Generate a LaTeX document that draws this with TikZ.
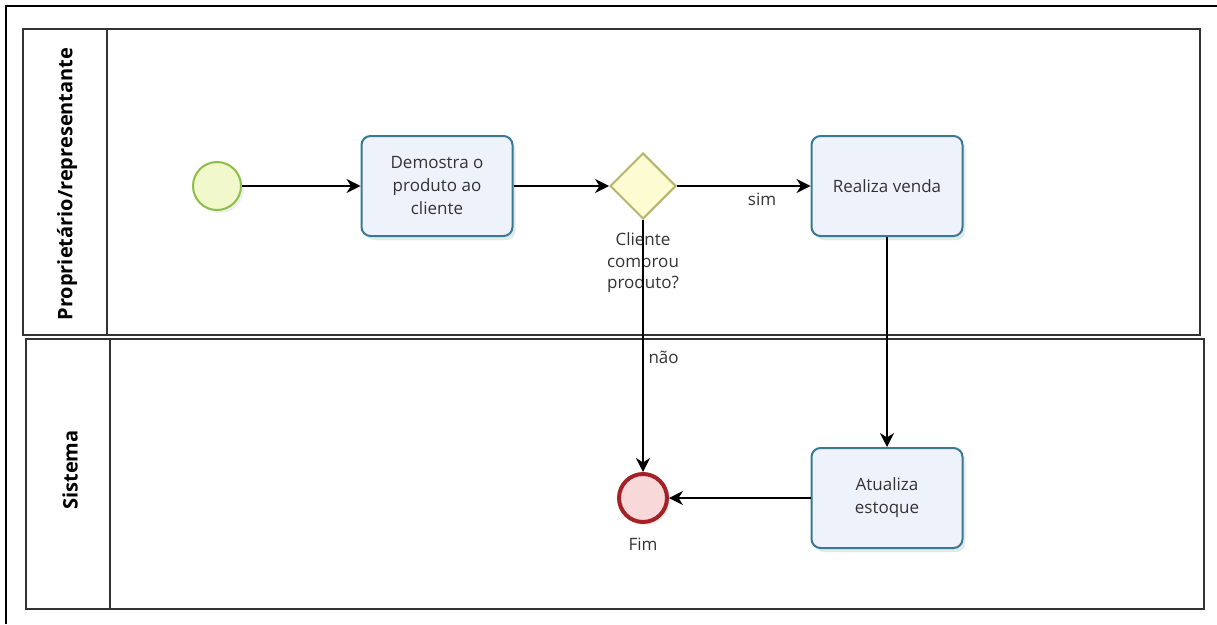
\documentclass[tikz,border=0pt]{standalone}
\usepackage{fontspec}
\setmainfont{Open Sans}
\usetikzlibrary{shapes.geometric,arrows.meta,shadows}
\definecolor{taskfill}{HTML}{EEF3FB}
\definecolor{taskdraw}{HTML}{3A7A90}
\definecolor{startfill}{HTML}{F0F8CC}
\definecolor{startdraw}{HTML}{8DBE45}
\definecolor{gatefill}{HTML}{FCFBD2}
\definecolor{gatedraw}{HTML}{B4B66C}
\definecolor{endfill}{HTML}{F8D8D8}
\definecolor{enddraw}{HTML}{A32127}
\definecolor{txt}{HTML}{333333}
\tikzset{
  lane/.style={draw=black!80, line width=1.3pt},
  lanetitle/.style={rotate=90, font=\fontsize{20}{24}\selectfont\bfseries, text=black},
  task/.style={draw=taskdraw, fill=taskfill, line width=2pt, rounded corners=9pt,
    minimum width=151pt, minimum height=100pt, align=center, text=txt,
    font=\fontsize{17}{23}\selectfont,
    drop shadow={shadow xshift=3pt, shadow yshift=-4pt, opacity=0.15, fill=taskdraw}},
  startev/.style={circle, draw=startdraw, fill=startfill, line width=2pt, minimum size=48pt,
    drop shadow={shadow xshift=3pt, shadow yshift=-3pt, opacity=0.12}},
  endev/.style={circle, draw=enddraw, fill=endfill, line width=4pt, minimum size=48pt,
    drop shadow={shadow xshift=3pt, shadow yshift=-3pt, opacity=0.12}},
  gateway/.style={diamond, draw=gatedraw, fill=gatefill, line width=2pt,
    minimum width=66pt, minimum height=66pt, inner sep=0pt},
  lbl/.style={text=txt, font=\fontsize{17}{21.5}\selectfont, align=center},
  flow/.style={draw=black, line width=1.4pt, -{Stealth[length=14pt,width=14pt,inset=4.5pt]}}
}
\begin{document}
\begin{tikzpicture}[x=1pt, y=-1pt]
\useasboundingbox (0,0) rectangle (1217,624);
\fill[white] (0,0) rectangle (1217,624);
% outer frame edges
\draw[black, line width=1.5pt] (6,624) -- (6,6) -- (1217,6);
% upper lane
\draw[lane] (23,29) rectangle (1200,335);
\draw[lane] (107,29) -- (107,335);
\node[lanetitle] (laneA) at (67,184) {Proprietário/representante};
% lower lane
\draw[lane] (26,339) rectangle (1204,609);
\draw[lane] (110,339) -- (110,609);
\node[lanetitle] (laneB) at (70,470) {Sistema};

% flow objects
\node[startev] (start) at (217,186) {};
\node[task] (demo) at (437,186) {Demostra o\\produto ao\\cliente};
\node[gateway] (gw) at (643,186) {};
\node[lbl] (gwlbl) at (643,263) {Cliente\\comprou\\produto?};
\node[task] (venda) at (887,186) {Realiza venda};
\node[task] (estoque) at (887,498) {Atualiza\\estoque};
\node[endev] (fim) at (643,498) {};
\node[lbl] (fimlbl) at (643,544) {Fim};
\node[lbl] (simlbl) at (762,199) {sim};
\node[lbl, anchor=west] (naolbl) at (645,357) {não};

% sequence flows
\draw[flow] (start) -- (demo);
\draw[flow] (demo) -- (gw);
\draw[flow] (gw) -- (venda);
\draw[flow] (gw.south) -- (fim);
\draw[flow] (venda) -- (estoque);
\draw[flow] (estoque) -- (fim);
\end{tikzpicture}
\end{document}
